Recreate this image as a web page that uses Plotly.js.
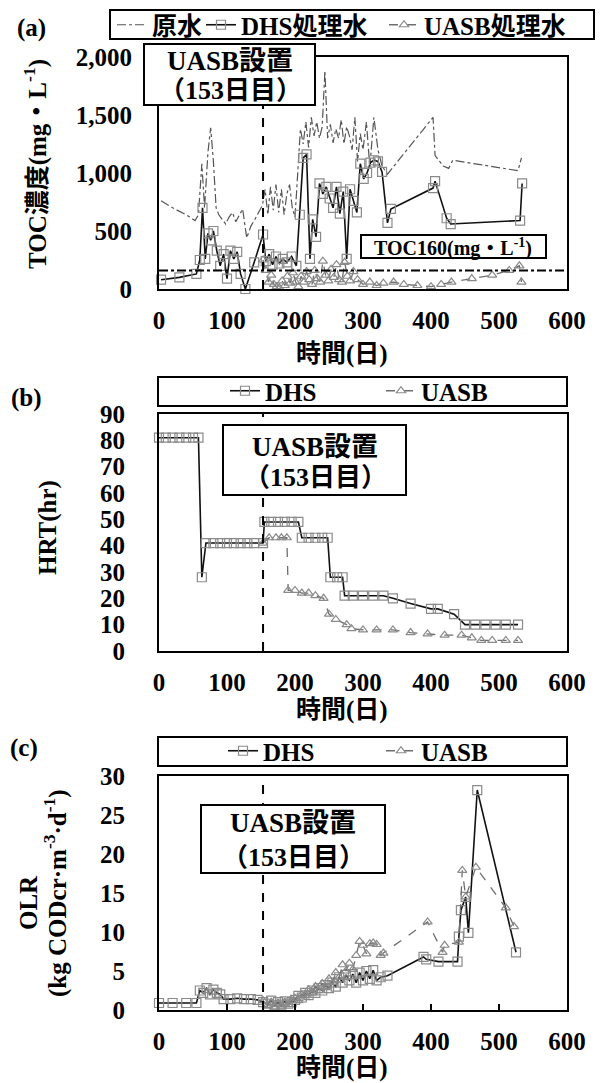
<!DOCTYPE html>
<html><head><meta charset="utf-8">
<script src="https://cdn.plot.ly/plotly-3.0.1.min.js"></script>
<style>html,body{margin:0;padding:0;background:#fff}</style>
</head><body>
<div id="chart" style="width:601px;height:1083px"></div>
<script>
// ---------- (a) TOC concentration ----------
const rawDay = [3,20,40,53,58,63,67,72,76,80, 84,88,93,98,103,108,113,118,123,129, 135,141,147,152,156,160,164,168,172,176, 180,184,188,192,196,200,204,208,212,216, 220,224,228,232,236,240,244,248,252,256, 260,264,268,272,276,280,284,288,292,296, 300,305,310,316,322,328,336,403,406,418, 426,432,528,533];
const rawToc = [760,700,640,590,640,1080,700,1180,1390,1100, 700,640,600,560,620,660,580,640,690,440, 540,600,660,720,860,640,880,680,900,660, 860,640,820,900,700,620,1000,1380,1250,1440, 1220,1480,1320,1440,1300,1400,1880,1300,1420,1260, 1380,1300,1460,1250,1400,1320,1200,1480,1100,1340, 1200,1440,1050,1480,1200,1060,990,1480,1150,1060, 1040,1110,1020,1130];
const dhsDay = [3,30,55,60,64,68,72,76,80,85, 90,95,100,105,110,115,120,127,140,153, 157,162,167,172,177,182,188,195,202,207, 212,217,222,226,231,236,241,246,251,256, 261,266,271,276,281,286,291,296,301,306, 311,316,322,328,336,341,403,406,423,429, 531,534];
const dhsToc = [80,100,130,250,700,260,480,420,500,330, 200,300,90,330,260,320,130,0,230,470, 240,300,210,280,220,260,230,280,200,640, 1130,1160,260,600,450,910,820,880,780,700, 880,650,840,260,860,760,660,1080,950,1000, 1090,1110,1100,1010,570,690,870,930,610,560, 590,910];
const uasbDay = [153,157,161,165,169,173,177,181,185,189, 193,197,201,205,209,213,217,221,225,229, 233,237,241,245,249,253,257,261,265,269, 273,277,281,286,292,300,310,320,330,345, 360,380,400,415,430,460,490,515,530,533];
const uasbToc = [250,160,60,120,40,20,10,70,30,110, 50,140,60,20,110,60,150,80,40,160, 90,60,240,120,70,170,100,210,80,60, 230,110,70,150,80,40,60,30,50,60, 40,30,20,40,60,90,120,160,200,60];
const tocLimit = 160;

// ---------- (b) HRT ----------
const hrtDhsDay = [0,10,20,30,40,50,58,63,69,80, 90,100,110,120,130,140,153,155,165,175, 185,195,205,210,220,230,240,248,252,262, 270,273,285,300,315,330,344,370,400,410, 434,450,465,480,495,510,528];
const hrtDhs = [81,81,81,81,81,81,81,28,41,41, 41,41,41,41,41,41,41,49,49,49, 49,49,49,43,43,43,43,43,28,28, 28,21,21,21,21,21,20,18,16,16, 14,10,10,10,10,10,10];
const hrtUasbDay = [153,162,172,180,188,190,200,210,220,230, 242,250,260,276,283,300,320,344,370,395, 420,445,460,474,490,510,528];
const hrtUasb = [41,43,43,43,43,23,23,22,22,21, 20,14,12,10,8.5,8,8,8,7,6.5, 6,6,5,4,4,4,4];

// ---------- (c) OLR ----------
const olrDhsDay = [0,20,40,55,60,65,70,75,80,85, 90,95,105,115,125,135,145,153,160,165, 170,175,180,185,190,195,200,205,210,215, 220,225,230,235,240,245,250,255,260,265, 270,275,280,285,290,295,300,305,310,315, 320,326,336,389,393,411,439,441,444,451, 455,468,525];
const olrDhs = [0.9,0.9,0.9,0.9,2.5,2.2,2.8,2.0,2.6,2.2, 2.0,1.4,1.4,1.5,1.4,1.4,1.3,1.0,0.8,1.2, 0.6,1.0,0.7,1.1,0.8,1.0,1.3,1.8,1.6,2.2, 1.9,2.5,2.2,2.8,2.5,3.2,2.8,3.5,3.0,4.2, 3.5,4.5,3.8,4.6,3.5,4.8,3.8,5.0,4.0,5.1, 3.8,4.2,4.4,6.8,6.5,6.2,6.2,9.4,12.8,14.5, 9.9,28.2,7.4];
const olrUasbDay = [153,160,165,170,175,180,185,190,195,200, 205,210,215,220,225,230,235,240,245,250, 255,260,265,270,275,280,285,290,295,300, 305,310,315,320,326,330,395,417,420,441, 446,451,466,510,522];
const olrUasb = [1.2,0.6,1.0,0.4,0.9,0.5,1.0,0.7,1.2,1.5, 1.2,2.0,1.8,2.6,2.2,3.0,2.5,3.4,3.0,4.0, 3.5,4.8,4.2,5.8,5.0,6.0,5.2,7.0,8.8,8.3, 7.2,8.5,8.6,8.4,7.0,7.3,11.3,7.4,8.3,8.7, 17.9,14.5,18.3,13.1,10.7];

const uasbStartDay = 153;
const xTicks = [0,100,200,300,400,500,600];

// ---------- layout helpers ----------
const W = 601, H = 1083;
const px = v => v / W;
const py = v => 1 - v / H;
const SERIF = "'Liberation Serif', 'Noto Sans CJK JP', serif";
const F = (size) => ({family: SERIF, size: size, color: '#000', weight: 700});

const dhsStyle = {mode: 'lines+markers', line: {color: '#111', width: 1.6},
  marker: {symbol: 'square-open', size: 9, color: '#8a8a8a', line: {width: 1.2}}, cliponaxis: false};
const uasbStyle = {mode: 'lines+markers', line: {color: '#6e6e6e', width: 1.3, dash: 'dash'},
  marker: {symbol: 'triangle-up-open', size: 8, color: '#8a8a8a', line: {width: 1.2}}, cliponaxis: false};

const traces = [
  Object.assign({x: rawDay, y: rawToc, name: '原水', xaxis: 'x', yaxis: 'y', legend: 'legend',
    mode: 'lines', line: {color: '#555', width: 1.2, dash: 'dashdot'}, cliponaxis: false}),
  Object.assign({}, dhsStyle, {x: dhsDay, y: dhsToc, name: 'DHS処理水', xaxis: 'x', yaxis: 'y', legend: 'legend2'}),
  Object.assign({}, uasbStyle, {x: uasbDay, y: uasbToc, name: 'UASB処理水', xaxis: 'x', yaxis: 'y', legend: 'legend3'}),
  Object.assign({}, dhsStyle, {x: hrtDhsDay, y: hrtDhs, name: 'DHS', xaxis: 'x2', yaxis: 'y2', legend: 'legend4'}),
  Object.assign({}, uasbStyle, {x: hrtUasbDay, y: hrtUasb, name: 'UASB', xaxis: 'x2', yaxis: 'y2', legend: 'legend5'}),
  Object.assign({}, dhsStyle, {x: olrDhsDay, y: olrDhs, name: 'DHS', xaxis: 'x3', yaxis: 'y3', legend: 'legend6'}),
  Object.assign({}, uasbStyle, {x: olrUasbDay, y: olrUasb, name: 'UASB', xaxis: 'x3', yaxis: 'y3', legend: 'legend7'})
];

const xBase = {domain: [px(159), px(567)], range: [0, 600], tickvals: xTicks, showline: true, mirror: true,
  linewidth: 2, linecolor: '#000', showgrid: false, zeroline: false, ticks: '', tickfont: F(25),
  ticklabelstandoff: 8, fixedrange: true};
const yBase = {showline: true, mirror: true, linewidth: 2, linecolor: '#000', showgrid: false,
  zeroline: false, ticks: '', tickfont: F(25), fixedrange: true};

function leg(xpix, ypix) {
  return {x: px(xpix), xanchor: 'left', y: py(ypix), yanchor: 'middle', orientation: 'h',
    bgcolor: 'rgba(0,0,0,0)', borderwidth: 0, font: F(25), itemwidth: 30};
}
function rect(x0, y0, x1, y1, fill) {
  return {type: 'rect', xref: 'paper', yref: 'paper', x0: px(x0), x1: px(x1), y0: py(y1), y1: py(y0),
    line: {color: '#000', width: 2}, fillcolor: fill || 'rgba(0,0,0,0)', layer: 'above'};
}
function txt(x, y, text, size, angle) {
  return {xref: 'paper', yref: 'paper', x: px(x), y: py(y), xanchor: 'center', yanchor: 'middle',
    text: text, showarrow: false, font: F(size), textangle: angle || 0};
}
function vline(xa, ya, ymax) {
  return {type: 'line', xref: xa, yref: ya, x0: uasbStartDay, x1: uasbStartDay, y0: 0, y1: ymax,
    line: {color: '#000', width: 2, dash: 'dash'}, layer: 'above'};
}

const layout = {
  width: W, height: H, margin: {l: 0, r: 0, t: 0, b: 0}, paper_bgcolor: '#fff', plot_bgcolor: '#fff',
  showlegend: true,
  xaxis: Object.assign({}, xBase, {anchor: 'y'}),
  yaxis: Object.assign({}, yBase, {anchor: 'x', domain: [py(289), py(57)], range: [0, 2000], dtick: 500, tickformat: ',', ticklabelstandoff: 20}),
  xaxis2: Object.assign({}, xBase, {anchor: 'y2'}),
  yaxis2: Object.assign({}, yBase, {anchor: 'x2', domain: [py(651), py(414)], range: [0, 90], dtick: 10, ticklabelstandoff: 27}),
  xaxis3: Object.assign({}, xBase, {anchor: 'y3', ticks: 'inside', ticklen: 6, tickwidth: 2, tickcolor: '#000'}),
  yaxis3: Object.assign({}, yBase, {anchor: 'x3', domain: [py(1010), py(776)], range: [0, 30], dtick: 5, ticklabelstandoff: 27}),
  legend: leg(112, 25), legend2: leg(201, 25), legend3: leg(384, 25),
  legend4: leg(225, 391), legend5: leg(381, 391),
  legend6: leg(223, 751), legend7: leg(381, 751),
  shapes: [
    vline('x', 'y', 2000), vline('x2', 'y2', 90), vline('x3', 'y3', 30),
    {type: 'line', xref: 'x', yref: 'y', x0: 0, x1: 600, y0: tocLimit, y1: tocLimit,
      line: {color: '#000', width: 2, dash: 'dashdot'}, layer: 'above'},
    rect(110, 10, 594, 39), rect(158, 377, 567, 406), rect(158, 737, 567, 766),
    rect(144, 44, 315, 105, '#fff'), rect(223, 425, 406, 495, '#fff'), rect(201, 805, 385, 873, '#fff'),
    rect(361, 235, 546, 258, '#fff')
  ],
  annotations: [
    txt(31, 28, '(a)', 25), txt(26, 398, '(b)', 25), txt(24, 748, '(c)', 25),
    txt(230, 61, 'UASB設置', 27), txt(230, 91, '（153日目）', 26),
    txt(315, 447, 'UASB設置', 27), txt(315, 477, '（153日目）', 26),
    txt(293, 823, 'UASB設置', 27), txt(293, 857, '（153日目）', 26),
    txt(453, 247, 'TOC160(mg・L<sup>-1</sup>)', 20),
    txt(342, 354, '時間(日)', 25), txt(342, 710, '時間(日)', 25), txt(342, 1068, '時間(日)', 25),
    txt(35, 164, 'TOC濃度(mg・L<sup>-1</sup>)', 25, -90),
    txt(48, 528, 'HRT(hr)', 25, -90),
    txt(28, 903, 'OLR', 25, -90),
    txt(55, 893, '(kg CODcr·m<sup>-3</sup>·d<sup>-1</sup>)', 25, -90)
  ]
};

Plotly.newPlot('chart', traces, layout, {displayModeBar: false, staticPlot: true});
</script>
</body></html>
